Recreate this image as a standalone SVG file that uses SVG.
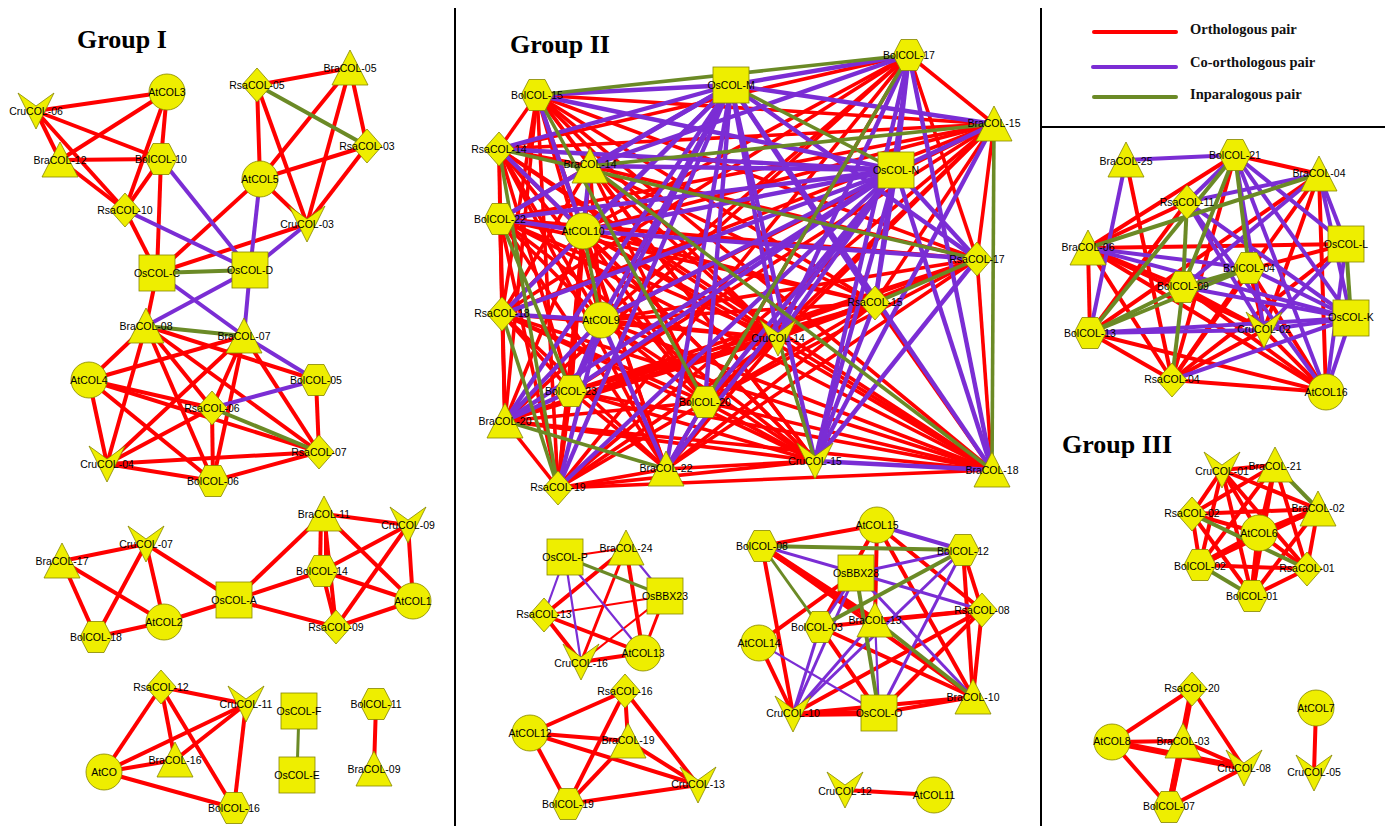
<svg xmlns="http://www.w3.org/2000/svg" xmlns:xlink="http://www.w3.org/1999/xlink" width="1385" height="826" viewBox="0 0 1385 826">
<style>
  .bg{fill:#ffffff}
  .div{stroke:#000;stroke-width:2;fill:none}
  .title{font-family:"Liberation Serif","Times New Roman",serif;font-weight:bold;font-size:26px;fill:#000}
  .leg{font-family:"Liberation Serif","Times New Roman",serif;font-weight:bold;font-size:14.5px;fill:#111}
  .t{font-family:"Liberation Sans",Arial,sans-serif;font-size:10.5px;text-anchor:middle;fill:#000}
  line{stroke-width:4;fill:none}
  .o{stroke:#ff0000}
  .c{stroke:#7b2dd4}
  .i{stroke:#6b8a26}
  .g2 line{stroke-width:3.6}
  .c.g2 line{stroke-width:4.4}
  .th{stroke-width:2.2 !important}
  .tk{stroke-width:6 !important}
  .lg{stroke-width:4;stroke-linecap:round}
  #sC,#sH,#sD,#sT,#sV,#sS{fill:#eeee00;stroke:#858500;stroke-width:0.8}
</style>
<defs>
  <circle id="sC" r="18"/>
  <polygon id="sH" points="-8,-15.5 8,-15.5 16,0 8,15.5 -8,15.5 -16,0"/>
  <polygon id="sD" points="0,-17 15,0 0,17 -15,0"/>
  <polygon id="sT" points="0,-18 18,17 -18,17"/>
  <polygon id="sV" points="-18,-18 0,-5 18,-18 0,18"/>
  <rect id="sS" x="-18" y="-18" width="36" height="36"/>
</defs>
<rect class="bg" x="0" y="0" width="1385" height="826"/>

<!-- panel dividers -->
<g id="frame">
  <line class="div" x1="455" y1="8" x2="455" y2="826"/>
  <line class="div" x1="1041" y1="8" x2="1041" y2="826"/>
  <line class="div" x1="1041" y1="127" x2="1385" y2="127"/>
</g>

<!-- legend -->
<g id="legend">
  <line class="o lg" x1="1094" y1="32" x2="1176" y2="32"/>
  <line class="c lg" x1="1093" y1="67" x2="1176" y2="67"/>
  <line class="i lg" x1="1094" y1="97" x2="1176" y2="97"/>
  <text class="leg" x="1190" y="34">Orthologous pair</text>
  <text class="leg" x="1190" y="67">Co-orthologous pair</text>
  <text class="leg" x="1190" y="99">Inparalogous pair</text>
</g>

<g id="titles">
  <text class="title" x="77" y="48">Group I</text>
  <text class="title" x="510" y="53">Group II</text>
  <text class="title" x="1062" y="453">Group III</text>
</g>

<g id="connectors">
  <!-- Group I -->
  <g class="o">
    <line x1="36" y1="111" x2="167" y2="92"/>
    <line x1="36" y1="111" x2="60" y2="160"/>
    <line x1="36" y1="111" x2="161" y2="159"/>
    <line x1="36" y1="111" x2="125" y2="210"/>
    <line x1="167" y1="92" x2="60" y2="160"/>
    <line x1="167" y1="92" x2="161" y2="159"/>
    <line x1="167" y1="92" x2="125" y2="210"/>
    <line x1="60" y1="160" x2="161" y2="159"/>
    <line x1="60" y1="160" x2="125" y2="210"/>
    <line x1="161" y1="159" x2="125" y2="210"/>
    <line x1="161" y1="159" x2="157" y2="273"/>
    <line x1="125" y1="210" x2="157" y2="273"/>
    <line x1="257" y1="85" x2="350" y2="68"/>
    <line x1="257" y1="85" x2="260" y2="179"/>
    <line x1="257" y1="85" x2="307" y2="224"/>
    <line x1="350" y1="68" x2="260" y2="179"/>
    <line x1="350" y1="68" x2="307" y2="224"/>
    <line x1="350" y1="68" x2="367" y2="146"/>
    <line x1="367" y1="146" x2="260" y2="179"/>
    <line x1="367" y1="146" x2="307" y2="224"/>
    <line x1="260" y1="179" x2="307" y2="224"/>
    <line x1="260" y1="179" x2="157" y2="273"/>
    <line x1="307" y1="224" x2="157" y2="273"/>
    <line x1="157" y1="273" x2="146" y2="326"/>
    <line x1="146" y1="326" x2="89" y2="380"/>
    <line x1="146" y1="326" x2="107" y2="464"/>
    <line x1="146" y1="326" x2="213" y2="481"/>
    <line x1="146" y1="326" x2="319" y2="452"/>
    <line x1="146" y1="326" x2="316" y2="380"/>
    <line x1="146" y1="326" x2="212" y2="408"/>
    <line x1="244" y1="336" x2="89" y2="380"/>
    <line x1="244" y1="336" x2="107" y2="464"/>
    <line x1="244" y1="336" x2="213" y2="481"/>
    <line x1="244" y1="336" x2="212" y2="408"/>
    <line x1="244" y1="336" x2="319" y2="452"/>
    <line x1="89" y1="380" x2="212" y2="408"/>
    <line x1="89" y1="380" x2="319" y2="452"/>
    <line x1="89" y1="380" x2="107" y2="464"/>
    <line x1="89" y1="380" x2="213" y2="481"/>
    <line x1="316" y1="380" x2="319" y2="452"/>
    <line x1="212" y1="408" x2="107" y2="464"/>
    <line x1="212" y1="408" x2="213" y2="481"/>
    <line x1="107" y1="464" x2="319" y2="452"/>
    <line x1="107" y1="464" x2="213" y2="481"/>
    <line x1="213" y1="481" x2="319" y2="452"/>
    <line x1="62" y1="561" x2="146" y2="544"/>
    <line x1="62" y1="561" x2="96" y2="637"/>
    <line x1="62" y1="561" x2="164" y2="622"/>
    <line x1="146" y1="544" x2="96" y2="637"/>
    <line x1="146" y1="544" x2="164" y2="622"/>
    <line x1="146" y1="544" x2="234" y2="600"/>
    <line x1="96" y1="637" x2="164" y2="622"/>
    <line x1="164" y1="622" x2="234" y2="600"/>
    <line x1="234" y1="600" x2="324" y2="514"/>
    <line x1="234" y1="600" x2="322" y2="571"/>
    <line x1="234" y1="600" x2="336" y2="627"/>
    <line x1="324" y1="514" x2="408" y2="525"/>
    <line x1="321" y1="514" x2="320" y2="571"/>
    <line x1="326" y1="514" x2="326" y2="571"/>
    <line x1="324" y1="514" x2="336" y2="627"/>
    <line x1="324" y1="514" x2="413" y2="601"/>
    <line x1="408" y1="525" x2="322" y2="571"/>
    <line x1="408" y1="525" x2="336" y2="627"/>
    <line x1="408" y1="525" x2="413" y2="601"/>
    <line x1="322" y1="571" x2="413" y2="601"/>
    <line x1="322" y1="571" x2="336" y2="627"/>
    <line x1="336" y1="627" x2="413" y2="601"/>
    <line x1="161" y1="687" x2="246" y2="704"/>
    <line x1="161" y1="687" x2="104" y2="772"/>
    <line x1="161" y1="687" x2="175" y2="760"/>
    <line x1="161" y1="687" x2="234" y2="808"/>
    <line x1="246" y1="704" x2="104" y2="772"/>
    <line x1="246" y1="704" x2="175" y2="760"/>
    <line x1="246" y1="704" x2="234" y2="808"/>
    <line x1="104" y1="772" x2="175" y2="760"/>
    <line x1="104" y1="772" x2="234" y2="808"/>
    <line x1="376" y1="704" x2="374" y2="769"/>
  </g>
  <g class="c">
    <line x1="161" y1="159" x2="250" y2="270"/>
    <line x1="125" y1="210" x2="250" y2="270"/>
    <line x1="260" y1="179" x2="250" y2="270"/>
    <line x1="307" y1="224" x2="250" y2="270"/>
    <line x1="157" y1="273" x2="244" y2="336"/>
    <line x1="250" y1="270" x2="146" y2="326"/>
    <line x1="250" y1="270" x2="244" y2="336"/>
    <line x1="244" y1="336" x2="316" y2="380"/>
    <line x1="316" y1="380" x2="212" y2="408"/>
  </g>
  <g class="i">
    <line x1="257" y1="85" x2="367" y2="146"/>
    <line x1="157" y1="273" x2="250" y2="270"/>
    <line x1="146" y1="326" x2="244" y2="336"/>
    <line x1="212" y1="408" x2="319" y2="452"/>
    <line x1="299" y1="711" x2="297" y2="775" style="stroke-width:3"/>
  </g>

  <!-- Group II: large cluster -->
  <g class="o g2">
    <line x1="537" y1="95" x2="499" y2="149"/>
    <line x1="537" y1="95" x2="590" y2="166"/>
    <line x1="537" y1="95" x2="994" y2="124"/>
    <line x1="537" y1="95" x2="977" y2="259"/>
    <line x1="537" y1="95" x2="502" y2="314"/>
    <line x1="537" y1="95" x2="601" y2="320"/>
    <line x1="537" y1="95" x2="875" y2="303"/>
    <line x1="537" y1="95" x2="778" y2="338"/>
    <line x1="537" y1="95" x2="505" y2="421"/>
    <line x1="537" y1="95" x2="666" y2="469"/>
    <line x1="537" y1="95" x2="558" y2="488"/>
    <line x1="537" y1="95" x2="815" y2="461"/>
    <line x1="537" y1="95" x2="992" y2="470"/>
    <line x1="909" y1="55" x2="499" y2="149"/>
    <line x1="909" y1="55" x2="994" y2="124"/>
    <line x1="909" y1="55" x2="583" y2="231"/>
    <line x1="909" y1="55" x2="977" y2="259"/>
    <line x1="909" y1="55" x2="502" y2="314"/>
    <line x1="909" y1="55" x2="601" y2="320"/>
    <line x1="909" y1="55" x2="505" y2="421"/>
    <line x1="909" y1="55" x2="666" y2="469"/>
    <line x1="909" y1="55" x2="558" y2="488"/>
    <line x1="499" y1="149" x2="590" y2="166"/>
    <line x1="499" y1="149" x2="994" y2="124"/>
    <line x1="499" y1="149" x2="500" y2="219"/>
    <line x1="499" y1="149" x2="601" y2="320"/>
    <line x1="499" y1="149" x2="778" y2="338"/>
    <line x1="499" y1="149" x2="571" y2="391"/>
    <line x1="499" y1="149" x2="705" y2="402"/>
    <line x1="499" y1="149" x2="505" y2="421"/>
    <line x1="499" y1="149" x2="666" y2="469"/>
    <line x1="499" y1="149" x2="815" y2="461"/>
    <line x1="499" y1="149" x2="992" y2="470"/>
    <line x1="590" y1="166" x2="500" y2="219"/>
    <line x1="590" y1="166" x2="977" y2="259"/>
    <line x1="590" y1="166" x2="502" y2="314"/>
    <line x1="590" y1="166" x2="601" y2="320"/>
    <line x1="590" y1="166" x2="875" y2="303"/>
    <line x1="590" y1="166" x2="778" y2="338"/>
    <line x1="590" y1="166" x2="571" y2="391"/>
    <line x1="590" y1="166" x2="705" y2="402"/>
    <line x1="590" y1="166" x2="558" y2="488"/>
    <line x1="590" y1="166" x2="815" y2="461"/>
    <line x1="994" y1="124" x2="500" y2="219"/>
    <line x1="994" y1="124" x2="583" y2="231"/>
    <line x1="994" y1="124" x2="977" y2="259"/>
    <line x1="994" y1="124" x2="502" y2="314"/>
    <line x1="994" y1="124" x2="601" y2="320"/>
    <line x1="994" y1="124" x2="875" y2="303"/>
    <line x1="994" y1="124" x2="778" y2="338"/>
    <line x1="994" y1="124" x2="571" y2="391"/>
    <line x1="994" y1="124" x2="705" y2="402"/>
    <line x1="994" y1="124" x2="558" y2="488"/>
    <line x1="500" y1="219" x2="977" y2="259"/>
    <line x1="500" y1="219" x2="502" y2="314"/>
    <line x1="500" y1="219" x2="601" y2="320"/>
    <line x1="500" y1="219" x2="875" y2="303"/>
    <line x1="500" y1="219" x2="778" y2="338"/>
    <line x1="500" y1="219" x2="505" y2="421"/>
    <line x1="500" y1="219" x2="666" y2="469"/>
    <line x1="500" y1="219" x2="558" y2="488"/>
    <line x1="500" y1="219" x2="815" y2="461"/>
    <line x1="500" y1="219" x2="992" y2="470"/>
    <line x1="583" y1="231" x2="502" y2="314"/>
    <line x1="583" y1="231" x2="875" y2="303"/>
    <line x1="583" y1="231" x2="778" y2="338"/>
    <line x1="583" y1="231" x2="571" y2="391"/>
    <line x1="583" y1="231" x2="705" y2="402"/>
    <line x1="583" y1="231" x2="505" y2="421"/>
    <line x1="583" y1="231" x2="666" y2="469"/>
    <line x1="583" y1="231" x2="558" y2="488"/>
    <line x1="583" y1="231" x2="815" y2="461"/>
    <line x1="583" y1="231" x2="992" y2="470"/>
    <line x1="977" y1="259" x2="601" y2="320"/>
    <line x1="977" y1="259" x2="778" y2="338"/>
    <line x1="977" y1="259" x2="571" y2="391"/>
    <line x1="977" y1="259" x2="705" y2="402"/>
    <line x1="977" y1="259" x2="505" y2="421"/>
    <line x1="977" y1="259" x2="666" y2="469"/>
    <line x1="977" y1="259" x2="992" y2="470"/>
    <line x1="502" y1="314" x2="778" y2="338"/>
    <line x1="502" y1="314" x2="571" y2="391"/>
    <line x1="502" y1="314" x2="705" y2="402"/>
    <line x1="502" y1="314" x2="505" y2="421"/>
    <line x1="502" y1="314" x2="666" y2="469"/>
    <line x1="502" y1="314" x2="815" y2="461"/>
    <line x1="502" y1="314" x2="992" y2="470"/>
    <line x1="601" y1="320" x2="875" y2="303"/>
    <line x1="601" y1="320" x2="778" y2="338"/>
    <line x1="601" y1="320" x2="705" y2="402"/>
    <line x1="601" y1="320" x2="815" y2="461"/>
    <line x1="601" y1="320" x2="992" y2="470"/>
    <line x1="875" y1="303" x2="778" y2="338"/>
    <line x1="875" y1="303" x2="571" y2="391"/>
    <line x1="875" y1="303" x2="705" y2="402"/>
    <line x1="875" y1="303" x2="505" y2="421"/>
    <line x1="875" y1="303" x2="666" y2="469"/>
    <line x1="875" y1="303" x2="992" y2="470"/>
    <line x1="778" y1="338" x2="571" y2="391"/>
    <line x1="778" y1="338" x2="705" y2="402"/>
    <line x1="778" y1="338" x2="505" y2="421"/>
    <line x1="778" y1="338" x2="666" y2="469"/>
    <line x1="778" y1="338" x2="558" y2="488"/>
    <line x1="778" y1="338" x2="992" y2="470"/>
    <line x1="571" y1="391" x2="666" y2="469"/>
    <line x1="571" y1="391" x2="558" y2="488"/>
    <line x1="571" y1="391" x2="815" y2="461"/>
    <line x1="571" y1="391" x2="992" y2="470"/>
    <line x1="705" y1="402" x2="505" y2="421"/>
    <line x1="705" y1="402" x2="558" y2="488"/>
    <line x1="705" y1="402" x2="815" y2="461"/>
    <line x1="705" y1="402" x2="992" y2="470"/>
    <line x1="505" y1="421" x2="558" y2="488"/>
    <line x1="505" y1="421" x2="815" y2="461"/>
    <line x1="505" y1="421" x2="992" y2="470"/>
    <line x1="666" y1="469" x2="558" y2="488"/>
    <line x1="666" y1="469" x2="815" y2="461"/>
    <line x1="558" y1="488" x2="815" y2="461"/>
    <line x1="558" y1="488" x2="992" y2="470"/>
  </g>
  <g class="c g2">
    <line x1="537" y1="95" x2="731" y2="85"/>
    <line x1="537" y1="95" x2="896" y2="170"/>
    <line x1="537" y1="95" x2="583" y2="231"/>
    <line x1="731" y1="85" x2="909" y2="55"/>
    <line x1="731" y1="85" x2="499" y2="149"/>
    <line x1="731" y1="85" x2="590" y2="166"/>
    <line x1="731" y1="85" x2="994" y2="124"/>
    <line x1="731" y1="85" x2="500" y2="219"/>
    <line x1="731" y1="85" x2="583" y2="231"/>
    <line x1="731" y1="85" x2="977" y2="259"/>
    <line x1="731" y1="85" x2="502" y2="314"/>
    <line x1="731" y1="85" x2="601" y2="320"/>
    <line x1="731" y1="85" x2="875" y2="303"/>
    <line x1="731" y1="85" x2="778" y2="338"/>
    <line x1="731" y1="85" x2="571" y2="391"/>
    <line x1="731" y1="85" x2="705" y2="402"/>
    <line x1="731" y1="85" x2="505" y2="421"/>
    <line x1="731" y1="85" x2="666" y2="469"/>
    <line x1="731" y1="85" x2="558" y2="488"/>
    <line x1="731" y1="85" x2="815" y2="461"/>
    <line x1="731" y1="85" x2="992" y2="470"/>
    <line x1="909" y1="55" x2="590" y2="166"/>
    <line x1="909" y1="55" x2="896" y2="170"/>
    <line x1="909" y1="55" x2="875" y2="303"/>
    <line x1="909" y1="55" x2="778" y2="338"/>
    <line x1="909" y1="55" x2="815" y2="461"/>
    <line x1="909" y1="55" x2="992" y2="470"/>
    <line x1="499" y1="149" x2="896" y2="170"/>
    <line x1="499" y1="149" x2="583" y2="231"/>
    <line x1="590" y1="166" x2="896" y2="170"/>
    <line x1="590" y1="166" x2="583" y2="231"/>
    <line x1="994" y1="124" x2="896" y2="170"/>
    <line x1="994" y1="124" x2="815" y2="461"/>
    <line x1="896" y1="170" x2="500" y2="219"/>
    <line x1="896" y1="170" x2="583" y2="231"/>
    <line x1="896" y1="170" x2="977" y2="259"/>
    <line x1="896" y1="170" x2="502" y2="314"/>
    <line x1="896" y1="170" x2="601" y2="320"/>
    <line x1="896" y1="170" x2="875" y2="303"/>
    <line x1="896" y1="170" x2="778" y2="338"/>
    <line x1="896" y1="170" x2="571" y2="391"/>
    <line x1="896" y1="170" x2="705" y2="402"/>
    <line x1="896" y1="170" x2="505" y2="421"/>
    <line x1="896" y1="170" x2="666" y2="469"/>
    <line x1="896" y1="170" x2="558" y2="488"/>
    <line x1="896" y1="170" x2="815" y2="461"/>
    <line x1="896" y1="170" x2="992" y2="470"/>
    <line x1="500" y1="219" x2="583" y2="231"/>
    <line x1="583" y1="231" x2="977" y2="259"/>
    <line x1="977" y1="259" x2="815" y2="461"/>
    <line x1="502" y1="314" x2="601" y2="320"/>
    <line x1="601" y1="320" x2="571" y2="391"/>
    <line x1="601" y1="320" x2="505" y2="421"/>
    <line x1="601" y1="320" x2="666" y2="469"/>
    <line x1="601" y1="320" x2="558" y2="488"/>
    <line x1="875" y1="303" x2="815" y2="461"/>
    <line x1="571" y1="391" x2="505" y2="421"/>
    <line x1="705" y1="402" x2="666" y2="469"/>
    <line x1="815" y1="461" x2="992" y2="470"/>
  </g>
  <g class="i g2">
    <line x1="537" y1="95" x2="909" y2="55"/>
    <line x1="537" y1="95" x2="705" y2="402"/>
    <line x1="909" y1="55" x2="705" y2="402"/>
    <line x1="500" y1="219" x2="571" y2="391"/>
    <line x1="590" y1="166" x2="994" y2="124"/>
    <line x1="590" y1="166" x2="992" y2="470"/>
    <line x1="994" y1="124" x2="992" y2="470"/>
    <line x1="505" y1="421" x2="666" y2="469"/>
    <line x1="499" y1="149" x2="977" y2="259"/>
    <line x1="977" y1="259" x2="875" y2="303"/>
    <line x1="502" y1="314" x2="558" y2="488"/>
    <line x1="499" y1="149" x2="558" y2="488"/>
    <line x1="583" y1="231" x2="601" y2="320"/>
    <line x1="778" y1="338" x2="815" y2="461"/>
    <line x1="731" y1="85" x2="896" y2="170"/>
  </g>

  <!-- Group II: small clusters -->
  <g class="o">
    <line class="th" x1="565" y1="557" x2="626" y2="548"/>
    <line x1="626" y1="548" x2="544" y2="615"/>
    <line style="stroke-width:3" x1="626" y1="548" x2="581" y2="662"/>
    <line x1="626" y1="548" x2="643" y2="653"/>
    <line class="th" x1="665" y1="596" x2="544" y2="615"/>
    <line class="th" x1="665" y1="596" x2="581" y2="662"/>
    <line style="stroke-width:3" x1="665" y1="596" x2="643" y2="653"/>
    <line x1="544" y1="615" x2="581" y2="662"/>
    <line x1="544" y1="615" x2="643" y2="653"/>
    <line x1="581" y1="662" x2="643" y2="653"/>
    <line x1="625" y1="691" x2="530" y2="733"/>
    <line x1="625" y1="691" x2="628" y2="741"/>
    <line x1="625" y1="691" x2="698" y2="785"/>
    <line x1="625" y1="691" x2="568" y2="804"/>
    <line x1="530" y1="733" x2="628" y2="741"/>
    <line x1="530" y1="733" x2="698" y2="785"/>
    <line x1="530" y1="733" x2="568" y2="804"/>
    <line x1="628" y1="741" x2="698" y2="785"/>
    <line x1="628" y1="741" x2="568" y2="804"/>
    <line x1="698" y1="785" x2="568" y2="804"/>
    <line x1="877" y1="525" x2="762" y2="546"/>
    <line x1="877" y1="525" x2="982" y2="610"/>
    <line x1="877" y1="525" x2="973" y2="697"/>
    <line x1="877" y1="525" x2="875" y2="620"/>
    <line x1="877" y1="525" x2="820" y2="627"/>
    <line class="tk" x1="762" y1="546" x2="875" y2="620"/>
    <line x1="762" y1="546" x2="973" y2="697"/>
    <line x1="762" y1="546" x2="793" y2="714"/>
    <line x1="963" y1="550" x2="982" y2="610"/>
    <line x1="963" y1="550" x2="973" y2="697"/>
    <line x1="982" y1="610" x2="875" y2="620"/>
    <line x1="982" y1="610" x2="973" y2="697"/>
    <line x1="982" y1="610" x2="793" y2="714"/>
    <line x1="982" y1="610" x2="879" y2="713"/>
    <line x1="982" y1="610" x2="820" y2="627"/>
    <line x1="820" y1="627" x2="973" y2="697"/>
    <line x1="820" y1="627" x2="879" y2="713"/>
    <line x1="759" y1="643" x2="793" y2="714"/>
    <line x1="759" y1="643" x2="856" y2="573"/>
    <line x1="973" y1="697" x2="793" y2="714"/>
    <line x1="973" y1="697" x2="879" y2="713"/>
    <line class="tk" x1="793" y1="714" x2="879" y2="713"/>
    <line x1="845" y1="790" x2="934" y2="795"/>
  </g>
  <g class="c">
    <line class="th" x1="565" y1="557" x2="544" y2="615"/>
    <line class="th" x1="565" y1="557" x2="581" y2="662"/>
    <line class="th" x1="565" y1="557" x2="643" y2="653"/>
    <line class="th" x1="626" y1="548" x2="665" y2="596"/>
    <line x1="877" y1="525" x2="963" y2="550"/>
    <line style="stroke-width:3" x1="762" y1="546" x2="856" y2="573"/>
    <line style="stroke-width:3" x1="963" y1="550" x2="856" y2="573"/>
    <line style="stroke-width:3" x1="963" y1="550" x2="793" y2="714"/>
    <line style="stroke-width:3" x1="963" y1="550" x2="879" y2="713"/>
    <line style="stroke-width:3" x1="856" y1="573" x2="982" y2="610"/>
    <line style="stroke-width:3" x1="856" y1="573" x2="973" y2="697"/>
    <line style="stroke-width:3" x1="856" y1="573" x2="793" y2="714"/>
    <line style="stroke-width:3" x1="856" y1="573" x2="820" y2="627"/>
    <line style="stroke-width:3" x1="820" y1="627" x2="793" y2="714"/>
    <line style="stroke-width:3" x1="875" y1="620" x2="793" y2="714"/>
    <line class="th" x1="875" y1="620" x2="879" y2="713"/>
    <line class="th" x1="759" y1="643" x2="879" y2="713"/>
  </g>
  <g class="i">
    <line style="stroke-width:3" x1="565" y1="557" x2="665" y2="596"/>
    <line x1="762" y1="546" x2="963" y2="550"/>
    <line style="stroke-width:3" x1="762" y1="546" x2="820" y2="627"/>
    <line x1="963" y1="550" x2="820" y2="627"/>
    <line x1="856" y1="573" x2="879" y2="713"/>
    <line x1="875" y1="620" x2="973" y2="697"/>
  </g>

  <!-- Group III -->
  <g class="o">
    <line x1="1126" y1="160" x2="1172" y2="380"/>
    <line x1="1235" y1="155" x2="1319" y2="174"/>
    <line x1="1235" y1="155" x2="1088" y2="248"/>
    <line x1="1235" y1="155" x2="1172" y2="380"/>
    <line x1="1319" y1="174" x2="1090" y2="333"/>
    <line x1="1319" y1="174" x2="1326" y2="392"/>
    <line x1="1319" y1="174" x2="1264" y2="330"/>
    <line x1="1319" y1="174" x2="1172" y2="380"/>
    <line x1="1187" y1="202" x2="1088" y2="248"/>
    <line x1="1187" y1="202" x2="1090" y2="333"/>
    <line x1="1088" y1="248" x2="1346" y2="244"/>
    <line x1="1088" y1="248" x2="1183" y2="287"/>
    <line x1="1088" y1="248" x2="1090" y2="333"/>
    <line x1="1088" y1="248" x2="1264" y2="330"/>
    <line x1="1088" y1="248" x2="1326" y2="392"/>
    <line x1="1088" y1="248" x2="1172" y2="380"/>
    <line x1="1346" y1="244" x2="1183" y2="287"/>
    <line x1="1346" y1="244" x2="1172" y2="380"/>
    <line x1="1249" y1="268" x2="1264" y2="330"/>
    <line x1="1249" y1="268" x2="1326" y2="392"/>
    <line x1="1249" y1="268" x2="1172" y2="380"/>
    <line x1="1183" y1="287" x2="1264" y2="330"/>
    <line x1="1183" y1="287" x2="1326" y2="392"/>
    <line x1="1090" y1="333" x2="1172" y2="380"/>
    <line x1="1090" y1="333" x2="1326" y2="392"/>
    <line x1="1264" y1="330" x2="1172" y2="380"/>
    <line x1="1264" y1="330" x2="1326" y2="392"/>
    <line x1="1172" y1="380" x2="1326" y2="392"/>
    <line x1="1222" y1="470" x2="1275" y2="465"/>
    <line x1="1222" y1="470" x2="1318" y2="509"/>
    <line x1="1222" y1="470" x2="1192" y2="514"/>
    <line x1="1222" y1="470" x2="1259" y2="533"/>
    <line x1="1222" y1="470" x2="1200" y2="565"/>
    <line x1="1222" y1="470" x2="1307" y2="569"/>
    <line x1="1222" y1="470" x2="1252" y2="596"/>
    <line x1="1275" y1="465" x2="1192" y2="514"/>
    <line x1="1275" y1="465" x2="1259" y2="533"/>
    <line x1="1275" y1="465" x2="1200" y2="565"/>
    <line x1="1275" y1="465" x2="1307" y2="569"/>
    <line x1="1275" y1="465" x2="1252" y2="596"/>
    <line x1="1318" y1="509" x2="1192" y2="514"/>
    <line class="tk" x1="1318" y1="509" x2="1259" y2="533"/>
    <line x1="1318" y1="509" x2="1200" y2="565"/>
    <line x1="1318" y1="509" x2="1307" y2="569"/>
    <line x1="1318" y1="509" x2="1252" y2="596"/>
    <line x1="1192" y1="514" x2="1259" y2="533"/>
    <line x1="1192" y1="514" x2="1200" y2="565"/>
    <line x1="1192" y1="514" x2="1252" y2="596"/>
    <line class="tk" x1="1259" y1="533" x2="1200" y2="565"/>
    <line x1="1259" y1="533" x2="1307" y2="569"/>
    <line class="tk" x1="1259" y1="533" x2="1252" y2="596"/>
    <line x1="1200" y1="565" x2="1307" y2="569"/>
    <line x1="1307" y1="569" x2="1252" y2="596"/>
    <line x1="1192" y1="689" x2="1112" y2="742"/>
    <line class="tk" x1="1192" y1="689" x2="1169" y2="807"/>
    <line x1="1192" y1="689" x2="1244" y2="768"/>
    <line x1="1112" y1="742" x2="1183" y2="741"/>
    <line class="tk" x1="1112" y1="742" x2="1244" y2="768"/>
    <line x1="1112" y1="742" x2="1169" y2="807"/>
    <line x1="1183" y1="741" x2="1244" y2="768"/>
    <line class="tk" x1="1183" y1="741" x2="1169" y2="807"/>
    <line x1="1244" y1="768" x2="1169" y2="807"/>
    <line x1="1316" y1="708" x2="1314" y2="773"/>
  </g>
  <g class="c">
    <line x1="1126" y1="160" x2="1235" y2="155"/>
    <line x1="1126" y1="160" x2="1090" y2="333"/>
    <line x1="1235" y1="155" x2="1187" y2="202"/>
    <line x1="1235" y1="155" x2="1351" y2="318"/>
    <line x1="1235" y1="155" x2="1346" y2="244"/>
    <line x1="1235" y1="155" x2="1264" y2="330"/>
    <line x1="1235" y1="155" x2="1326" y2="392"/>
    <line x1="1319" y1="174" x2="1187" y2="202"/>
    <line x1="1319" y1="174" x2="1183" y2="287"/>
    <line x1="1319" y1="174" x2="1346" y2="244"/>
    <line x1="1319" y1="174" x2="1351" y2="318"/>
    <line x1="1187" y1="202" x2="1264" y2="330"/>
    <line x1="1187" y1="202" x2="1351" y2="318"/>
    <line x1="1187" y1="202" x2="1326" y2="392"/>
    <line x1="1088" y1="248" x2="1249" y2="268"/>
    <line x1="1088" y1="248" x2="1351" y2="318"/>
    <line x1="1346" y1="244" x2="1326" y2="392"/>
    <line x1="1346" y1="244" x2="1264" y2="330"/>
    <line x1="1249" y1="268" x2="1351" y2="318"/>
    <line x1="1183" y1="287" x2="1351" y2="318"/>
    <line x1="1351" y1="318" x2="1090" y2="333"/>
    <line x1="1351" y1="318" x2="1264" y2="330"/>
    <line x1="1351" y1="318" x2="1172" y2="380"/>
    <line x1="1351" y1="318" x2="1326" y2="392"/>
    <line x1="1090" y1="333" x2="1264" y2="330"/>
  </g>
  <g class="i">
    <line x1="1235" y1="155" x2="1183" y2="287"/>
    <line x1="1235" y1="155" x2="1249" y2="268"/>
    <line x1="1235" y1="155" x2="1090" y2="333"/>
    <line x1="1319" y1="174" x2="1088" y2="248"/>
    <line x1="1187" y1="202" x2="1183" y2="287"/>
    <line x1="1346" y1="244" x2="1351" y2="318"/>
    <line x1="1249" y1="268" x2="1183" y2="287"/>
    <line x1="1249" y1="268" x2="1090" y2="333"/>
    <line x1="1183" y1="287" x2="1090" y2="333"/>
    <line x1="1183" y1="287" x2="1172" y2="380"/>
    <line x1="1275" y1="465" x2="1318" y2="509"/>
    <line x1="1192" y1="514" x2="1307" y2="569"/>
    <line x1="1200" y1="565" x2="1252" y2="596"/>
  </g>
</g>

<!-- Group I nodes -->
<g id="CruCOL-06"><use href="#sV" x="36" y="111"/><text class="t" x="36" y="115">CruCOL-06</text></g>
<g id="AtCOL3"><use href="#sC" x="167" y="92"/><text class="t" x="167" y="96">AtCOL3</text></g>
<g id="BraCOL-12"><use href="#sT" x="60" y="160"/><text class="t" x="60" y="164">BraCOL-12</text></g>
<g id="BolCOL-10"><use href="#sH" x="161" y="159"/><text class="t" x="161" y="163">BolCOL-10</text></g>
<g id="RsaCOL-10"><use href="#sD" x="125" y="210"/><text class="t" x="125" y="214">RsaCOL-10</text></g>
<g id="RsaCOL-05"><use href="#sD" x="257" y="85"/><text class="t" x="257" y="89">RsaCOL-05</text></g>
<g id="BraCOL-05"><use href="#sT" x="350" y="68"/><text class="t" x="350" y="72">BraCOL-05</text></g>
<g id="RsaCOL-03"><use href="#sD" x="367" y="146"/><text class="t" x="367" y="150">RsaCOL-03</text></g>
<g id="AtCOL5"><use href="#sC" x="260" y="179"/><text class="t" x="260" y="183">AtCOL5</text></g>
<g id="CruCOL-03"><use href="#sV" x="307" y="224"/><text class="t" x="307" y="228">CruCOL-03</text></g>
<g id="OsCOL-C"><use href="#sS" x="157" y="273"/><text class="t" x="157" y="277">OsCOL-C</text></g>
<g id="OsCOL-D"><use href="#sS" x="250" y="270"/><text class="t" x="250" y="274">OsCOL-D</text></g>
<g id="BraCOL-08"><use href="#sT" x="146" y="326"/><text class="t" x="146" y="330">BraCOL-08</text></g>
<g id="BraCOL-07"><use href="#sT" x="244" y="336"/><text class="t" x="244" y="340">BraCOL-07</text></g>
<g id="AtCOL4"><use href="#sC" x="89" y="380"/><text class="t" x="89" y="384">AtCOL4</text></g>
<g id="BolCOL-05"><use href="#sH" x="316" y="380"/><text class="t" x="316" y="384">BolCOL-05</text></g>
<g id="RsaCOL-06"><use href="#sD" x="212" y="408"/><text class="t" x="212" y="412">RsaCOL-06</text></g>
<g id="RsaCOL-07"><use href="#sD" x="319" y="452"/><text class="t" x="319" y="456">RsaCOL-07</text></g>
<g id="CruCOL-04"><use href="#sV" x="107" y="464"/><text class="t" x="107" y="468">CruCOL-04</text></g>
<g id="BolCOL-06"><use href="#sH" x="213" y="481"/><text class="t" x="213" y="485">BolCOL-06</text></g>
<g id="BraCOL-11"><use href="#sT" x="324" y="514"/><text class="t" x="324" y="518">BraCOL-11</text></g>
<g id="CruCOL-09"><use href="#sV" x="408" y="525"/><text class="t" x="408" y="529">CruCOL-09</text></g>
<g id="CruCOL-07"><use href="#sV" x="146" y="544"/><text class="t" x="146" y="548">CruCOL-07</text></g>
<g id="BraCOL-17"><use href="#sT" x="62" y="561"/><text class="t" x="62" y="565">BraCOL-17</text></g>
<g id="BolCOL-14"><use href="#sH" x="322" y="571"/><text class="t" x="322" y="575">BolCOL-14</text></g>
<g id="OsCOL-A"><use href="#sS" x="234" y="600"/><text class="t" x="234" y="604">OsCOL-A</text></g>
<g id="AtCOL1"><use href="#sC" x="413" y="601"/><text class="t" x="413" y="605">AtCOL1</text></g>
<g id="AtCOL2"><use href="#sC" x="164" y="622"/><text class="t" x="164" y="626">AtCOL2</text></g>
<g id="BolCOL-18"><use href="#sH" x="96" y="637"/><text class="t" x="96" y="641">BolCOL-18</text></g>
<g id="RsaCOL-09"><use href="#sD" x="336" y="627"/><text class="t" x="336" y="631">RsaCOL-09</text></g>
<g id="RsaCOL-12"><use href="#sD" x="161" y="687"/><text class="t" x="161" y="691">RsaCOL-12</text></g>
<g id="CruCOL-11"><use href="#sV" x="246" y="704"/><text class="t" x="246" y="708">CruCOL-11</text></g>
<g id="OsCOL-F"><use href="#sS" x="299" y="711"/><text class="t" x="299" y="715">OsCOL-F</text></g>
<g id="BolCOL-11"><use href="#sH" x="376" y="704"/><text class="t" x="376" y="708">BolCOL-11</text></g>
<g id="AtCO"><use href="#sC" x="104" y="772"/><text class="t" x="104" y="776">AtCO</text></g>
<g id="BraCOL-16"><use href="#sT" x="175" y="760"/><text class="t" x="175" y="764">BraCOL-16</text></g>
<g id="OsCOL-E"><use href="#sS" x="297" y="775"/><text class="t" x="297" y="779">OsCOL-E</text></g>
<g id="BraCOL-09"><use href="#sT" x="374" y="769"/><text class="t" x="374" y="773">BraCOL-09</text></g>
<g id="BolCOL-16"><use href="#sH" x="234" y="808"/><text class="t" x="234" y="812">BolCOL-16</text></g>

<!-- Group II nodes -->
<g id="BolCOL-15"><use href="#sH" x="537" y="95"/><text class="t" x="537" y="99">BolCOL-15</text></g>
<g id="OsCOL-M"><use href="#sS" x="731" y="85"/><text class="t" x="731" y="89">OsCOL-M</text></g>
<g id="BolCOL-17"><use href="#sH" x="909" y="55"/><text class="t" x="909" y="59">BolCOL-17</text></g>
<g id="RsaCOL-14"><use href="#sD" x="499" y="149"/><text class="t" x="499" y="153">RsaCOL-14</text></g>
<g id="BraCOL-14"><use href="#sT" x="590" y="166"/><text class="t" x="590" y="168">BraCOL-14</text></g>
<g id="BraCOL-15"><use href="#sT" x="994" y="124"/><text class="t" x="994" y="127">BraCOL-15</text></g>
<g id="OsCOL-N"><use href="#sS" x="896" y="170"/><text class="t" x="896" y="174">OsCOL-N</text></g>
<g id="BolCOL-22"><use href="#sH" x="500" y="219"/><text class="t" x="500" y="223">BolCOL-22</text></g>
<g id="AtCOL10"><use href="#sC" x="583" y="231"/><text class="t" x="583" y="235">AtCOL10</text></g>
<g id="RsaCOL-17"><use href="#sD" x="977" y="259"/><text class="t" x="977" y="263">RsaCOL-17</text></g>
<g id="RsaCOL-18"><use href="#sD" x="502" y="314"/><text class="t" x="502" y="317">RsaCOL-18</text></g>
<g id="AtCOL9"><use href="#sC" x="601" y="320"/><text class="t" x="601" y="324">AtCOL9</text></g>
<g id="RsaCOL-15"><use href="#sD" x="875" y="303"/><text class="t" x="875" y="306">RsaCOL-15</text></g>
<g id="CruCOL-14"><use href="#sV" x="778" y="338"/><text class="t" x="778" y="342">CruCOL-14</text></g>
<g id="BolCOL-23"><use href="#sH" x="571" y="391"/><text class="t" x="571" y="395">BolCOL-23</text></g>
<g id="BolCOL-20"><use href="#sH" x="705" y="402"/><text class="t" x="705" y="406">BolCOL-20</text></g>
<g id="BraCOL-20"><use href="#sT" x="505" y="421"/><text class="t" x="505" y="425">BraCOL-20</text></g>
<g id="BraCOL-22"><use href="#sT" x="666" y="469"/><text class="t" x="666" y="472">BraCOL-22</text></g>
<g id="RsaCOL-19"><use href="#sD" x="558" y="488"/><text class="t" x="558" y="491">RsaCOL-19</text></g>
<g id="CruCOL-15"><use href="#sV" x="815" y="461"/><text class="t" x="815" y="465">CruCOL-15</text></g>
<g id="BraCOL-18"><use href="#sT" x="992" y="470"/><text class="t" x="992" y="474">BraCOL-18</text></g>
<g id="OsCOL-P"><use href="#sS" x="565" y="557"/><text class="t" x="565" y="561">OsCOL-P</text></g>
<g id="BraCOL-24"><use href="#sT" x="626" y="548"/><text class="t" x="626" y="552">BraCOL-24</text></g>
<g id="OsBBX23"><use href="#sS" x="665" y="596"/><text class="t" x="665" y="600">OsBBX23</text></g>
<g id="RsaCOL-13"><use href="#sD" x="544" y="615"/><text class="t" x="544" y="618">RsaCOL-13</text></g>
<g id="CruCOL-16"><use href="#sV" x="581" y="662"/><text class="t" x="581" y="667">CruCOL-16</text></g>
<g id="AtCOL13"><use href="#sC" x="643" y="653"/><text class="t" x="643" y="657">AtCOL13</text></g>
<g id="RsaCOL-16"><use href="#sD" x="625" y="691"/><text class="t" x="625" y="695">RsaCOL-16</text></g>
<g id="AtCOL12"><use href="#sC" x="530" y="733"/><text class="t" x="530" y="737">AtCOL12</text></g>
<g id="BraCOL-19"><use href="#sT" x="628" y="741"/><text class="t" x="628" y="744">BraCOL-19</text></g>
<g id="CruCOL-13"><use href="#sV" x="698" y="785"/><text class="t" x="698" y="788">CruCOL-13</text></g>
<g id="BolCOL-19"><use href="#sH" x="568" y="804"/><text class="t" x="568" y="808">BolCOL-19</text></g>
<g id="AtCOL15"><use href="#sC" x="877" y="525"/><text class="t" x="877" y="529">AtCOL15</text></g>
<g id="BolCOL-08"><use href="#sH" x="762" y="546"/><text class="t" x="762" y="550">BolCOL-08</text></g>
<g id="BolCOL-12"><use href="#sH" x="963" y="550"/><text class="t" x="963" y="555">BolCOL-12</text></g>
<g id="OsBBX28"><use href="#sS" x="856" y="573"/><text class="t" x="856" y="577">OsBBX28</text></g>
<g id="RsaCOL-08"><use href="#sD" x="982" y="610"/><text class="t" x="982" y="614">RsaCOL-08</text></g>
<g id="BolCOL-03"><use href="#sH" x="820" y="627"/><text class="t" x="817" y="631">BolCOL-03</text></g>
<g id="BraCOL-13"><use href="#sT" x="875" y="620"/><text class="t" x="875" y="624">BraCOL-13</text></g>
<g id="AtCOL14"><use href="#sC" x="759" y="643"/><text class="t" x="759" y="647">AtCOL14</text></g>
<g id="BraCOL-10"><use href="#sT" x="973" y="697"/><text class="t" x="973" y="701">BraCOL-10</text></g>
<g id="CruCOL-10"><use href="#sV" x="793" y="714"/><text class="t" x="793" y="717">CruCOL-10</text></g>
<g id="OsCOL-O"><use href="#sS" x="879" y="713"/><text class="t" x="879" y="717">OsCOL-O</text></g>
<g id="CruCOL-12"><use href="#sV" x="845" y="790"/><text class="t" x="845" y="795">CruCOL-12</text></g>
<g id="AtCOL11"><use href="#sC" x="934" y="795"/><text class="t" x="934" y="799">AtCOL11</text></g>

<!-- Group III nodes -->
<g id="BraCOL-25"><use href="#sT" x="1126" y="160"/><text class="t" x="1126" y="165">BraCOL-25</text></g>
<g id="BolCOL-21"><use href="#sH" x="1235" y="155"/><text class="t" x="1235" y="159">BolCOL-21</text></g>
<g id="BraCOL-04"><use href="#sT" x="1319" y="174"/><text class="t" x="1319" y="177">BraCOL-04</text></g>
<g id="RsaCOL-11"><use href="#sD" x="1187" y="202"/><text class="t" x="1187" y="206">RsaCOL-11</text></g>
<g id="BraCOL-06"><use href="#sT" x="1088" y="248"/><text class="t" x="1088" y="251">BraCOL-06</text></g>
<g id="OsCOL-L"><use href="#sS" x="1346" y="244"/><text class="t" x="1346" y="248">OsCOL-L</text></g>
<g id="BolCOL-04"><use href="#sH" x="1249" y="268"/><text class="t" x="1249" y="272">BolCOL-04</text></g>
<g id="BolCOL-09"><use href="#sH" x="1183" y="287"/><text class="t" x="1183" y="290">BolCOL-09</text></g>
<g id="OsCOL-K"><use href="#sS" x="1351" y="318"/><text class="t" x="1351" y="321">OsCOL-K</text></g>
<g id="BolCOL-13"><use href="#sH" x="1090" y="333"/><text class="t" x="1090" y="337">BolCOL-13</text></g>
<g id="CruCOL-02"><use href="#sV" x="1264" y="330"/><text class="t" x="1264" y="333">CruCOL-02</text></g>
<g id="RsaCOL-04"><use href="#sD" x="1172" y="380"/><text class="t" x="1172" y="383">RsaCOL-04</text></g>
<g id="AtCOL16"><use href="#sC" x="1326" y="392"/><text class="t" x="1326" y="396">AtCOL16</text></g>
<g id="CruCOL-01"><use href="#sV" x="1222" y="470"/><text class="t" x="1222" y="475">CruCOL-01</text></g>
<g id="BraCOL-21"><use href="#sT" x="1275" y="465"/><text class="t" x="1275" y="470">BraCOL-21</text></g>
<g id="BraCOL-02"><use href="#sT" x="1318" y="509"/><text class="t" x="1318" y="512">BraCOL-02</text></g>
<g id="RsaCOL-02"><use href="#sD" x="1192" y="514"/><text class="t" x="1192" y="517">RsaCOL-02</text></g>
<g id="AtCOL6"><use href="#sC" x="1259" y="533"/><text class="t" x="1259" y="537">AtCOL6</text></g>
<g id="BolCOL-02"><use href="#sH" x="1200" y="565"/><text class="t" x="1200" y="570">BolCOL-02</text></g>
<g id="RsaCOL-01"><use href="#sD" x="1307" y="569"/><text class="t" x="1307" y="572">RsaCOL-01</text></g>
<g id="BolCOL-01"><use href="#sH" x="1252" y="596"/><text class="t" x="1252" y="600">BolCOL-01</text></g>
<g id="RsaCOL-20"><use href="#sD" x="1192" y="689"/><text class="t" x="1192" y="692">RsaCOL-20</text></g>
<g id="AtCOL7"><use href="#sC" x="1316" y="708"/><text class="t" x="1316" y="712">AtCOL7</text></g>
<g id="AtCOL8"><use href="#sC" x="1112" y="742"/><text class="t" x="1112" y="745">AtCOL8</text></g>
<g id="BraCOL-03"><use href="#sT" x="1183" y="741"/><text class="t" x="1183" y="745">BraCOL-03</text></g>
<g id="CruCOL-08"><use href="#sV" x="1244" y="768"/><text class="t" x="1244" y="772">CruCOL-08</text></g>
<g id="CruCOL-05"><use href="#sV" x="1314" y="773"/><text class="t" x="1314" y="776">CruCOL-05</text></g>
<g id="BolCOL-07"><use href="#sH" x="1169" y="807"/><text class="t" x="1169" y="810">BolCOL-07</text></g>
</svg>
